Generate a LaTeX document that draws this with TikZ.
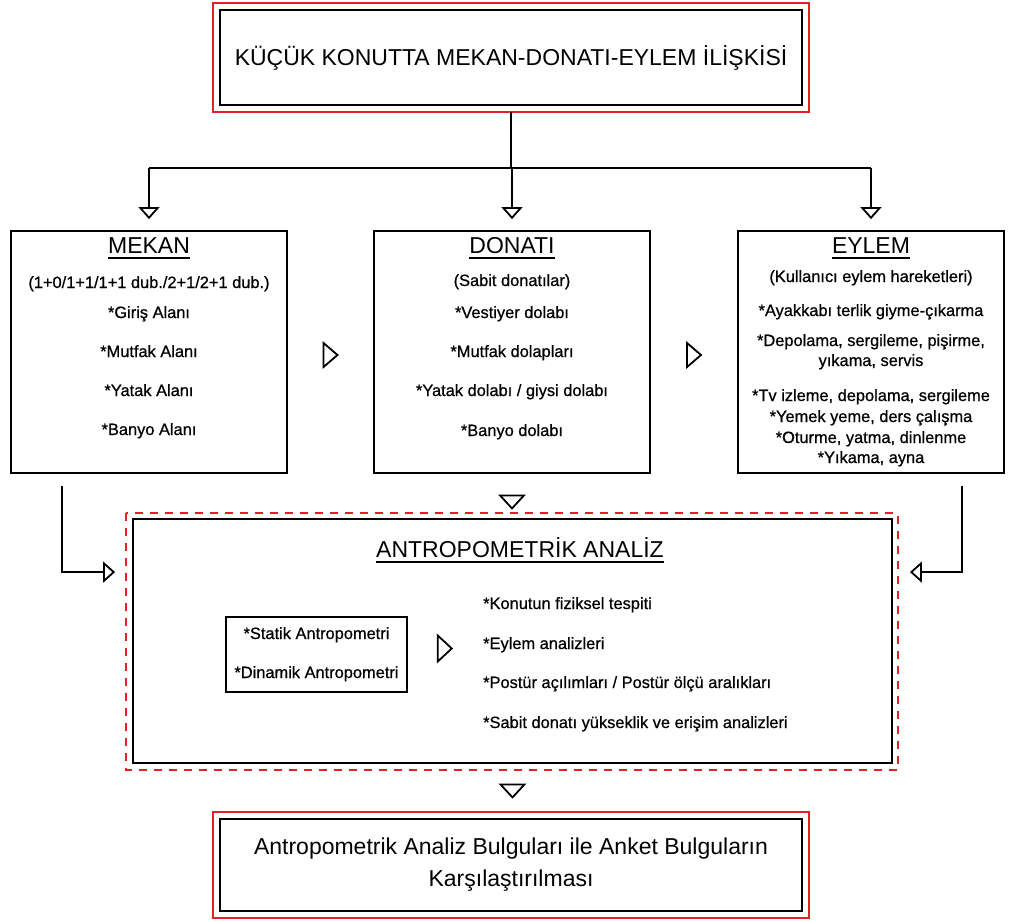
\documentclass[tikz,border=0pt]{standalone}
\usepackage{fontspec}
\setmainfont{Liberation Sans}
\newfontfamily\itemfont{Liberation Sans}[FakeBold=0.7]
\usetikzlibrary{calc}
\usetikzlibrary{arrows.meta}

\definecolor{framered}{RGB}{228,32,38}
\newcommand{\headsize}{\fontsize{23}{32}\selectfont}
\newcommand{\itemsize}{\itemfont\fontsize{16.4}{20}\selectfont}

\begin{document}
\begin{tikzpicture}[x=1pt, y=-1pt,
    box/.style={draw, line width=1.8pt, inner sep=0pt},
    redline/.style={draw=framered, line width=1.8pt},
    reddash/.style={draw=framered, line width=1.8pt, dash pattern=on 8pt off 7pt},
    heading/.style={anchor=base, inner sep=0pt, font=\headsize},
    entry/.style={anchor=base, inner sep=0pt, font=\itemsize},
    flowline/.style={line width=1.8pt, -{Triangle[open, length=12pt, width=21pt]}},
  ]
  \newcommand{\flowmark}[4]
  {%
    \draw[line width=1.8pt, shift={#1}, rotate=#2]
      (-#3/2, -#4/2) -- (#3/2, 0) -- (-#3/2, #4/2) -- cycle;%
  }%
  \useasboundingbox (0,0) rectangle (1009,921);

  % head
  \node[box, minimum width=582pt, minimum height=95pt, font=\headsize] (top) at (511,57.5)
    {KÜÇÜK KONUTTA MEKAN-DONATI-EYLEM İLİŞKİSİ};
  \draw[redline] ([shift={(-6,-6)}]top.north west) rectangle ([shift={(6,6)}]top.south east);

  % mekan / donati / eylem
  \node[box, minimum width=276pt, minimum height=242pt] (mekan) at (149,352) {};
  \node[box, minimum width=276pt, minimum height=242pt] (donati) at (512,352) {};
  \node[box, minimum width=266pt, minimum height=242pt] (eylem) at (871,352) {};

  \node[heading] (mekan-t) at (149,253) {MEKAN};
  \node[heading] (donati-t) at (512,253) {DONATI};
  \node[heading] (eylem-t) at (871,253) {EYLEM};

  \foreach \txt/\y [count=\i] in {{(1+0/1+1/1+1 dub./2+1/2+1 dub.)}/288, {*Giriş Alanı}/318,
      {*Mutfak Alanı}/357, {*Yatak Alanı}/396, {*Banyo Alanı}/435}
    \node[entry] (mekan-\i) at (149,\y) {\txt};
  \foreach \txt/\y [count=\i] in {{(Sabit donatılar)}/286, {*Vestiyer dolabı}/318,
      {*Mutfak dolapları}/357, {*Yatak dolabı / giysi dolabı}/396, {*Banyo dolabı}/436}
    \node[entry] (donati-\i) at (512,\y) {\txt};
  \foreach \txt/\y [count=\i] in {{(Kullanıcı eylem hareketleri)}/282,
      {*Ayakkabı terlik giyme-çıkarma}/316, {*Depolama, sergileme, pişirme,}/346,
      {yıkama, servis}/366, {*Tv izleme, depolama, sergileme}/401,
      {*Yemek yeme, ders çalışma}/422, {*Oturme, yatma, dinlenme}/443, {*Yıkama, ayna}/463}
    \node[entry] (eylem-\i) at (871,\y) {\txt};

  % antropometrik analiz
  \node[box, minimum width=759pt, minimum height=244pt] (analiz) at (512.5,641) {};
  \draw[reddash] ([shift={(-6,-5)}]analiz.north west) rectangle ([shift={(5,6)}]analiz.south east);
  \node[heading] (analiz-t) at (520,557) {ANTROPOMETRİK ANALİZ};

  \node[box, line width=1.5pt, minimum width=181pt, minimum height=75pt] (antro) at (316.5,654.5) {};
  \node[entry] (statik) at (316.5,639) {*Statik Antropometri};
  \node[entry] (dinamik) at (316.5,678) {*Dinamik Antropometri};
  \foreach \txt/\y [count=\i] in {{*Konutun fiziksel tespiti}/609, {*Eylem analizleri}/649,
      {*Postür açılımları / Postür ölçü aralıkları}/688,
      {*Sabit donatı yükseklik ve erişim analizleri}/728}
    \node[entry, anchor=base west] (bulgu-\i) at (483,\y) {\txt};

  \foreach \n in {mekan-t, donati-t, eylem-t, analiz-t}
    \draw[line width=1.5pt] ([yshift=-5pt]\n.base west) -- ([yshift=-5pt]\n.base east);

  % sonuc
  \node[box, minimum width=582pt, minimum height=92pt, align=center, font=\headsize] (sonuc) at (511,865)
    {Antropometrik Analiz Bulguları ile Anket Bulguların\\Karşılaştırılması};
  \draw[redline] ([shift={(-6,-6)}]sonuc.north west) rectangle ([shift={(6,6)}]sonuc.south east);

  % connectors
  \coordinate (bus) at (0,168);
  \draw[line width=1.8pt] ([yshift=-6pt]top.south) -- (top.south |- bus);
  \draw[line width=1.8pt] (mekan.north |- bus) -- (eylem.north |- bus);
  \foreach \n in {mekan, donati, eylem}
    \draw[flowline, shorten >=11pt] (\n.north |- bus) -- (\n.north);

  \coordinate (mekanout) at ($(mekan.south west)+(52,12)$);
  \coordinate (eylemout) at ($(eylem.south east)+(-43,12)$);
  \draw[flowline, shorten >=17pt] (mekanout) |- ($(analiz.north west)+(0,54)$);
  \draw[flowline, shorten >=17pt] (eylemout) |- ($(analiz.north east)+(0,54)$);

  \flowmark{($(mekan.east)!0.5!(donati.west)+(0,3)$)}{0}{14}{24}
  \flowmark{($(donati.east)!0.5!(eylem.west)+(0,3)$)}{0}{14}{24}
  \flowmark{($(donati.south)+(0,28)$)}{-90}{13}{24}
  \flowmark{($(antro.east)+(37,-6)$)}{0}{14}{26}
  \flowmark{($(analiz.south)+(0,27)$)}{-90}{13}{24}
\end{tikzpicture}
\end{document}
